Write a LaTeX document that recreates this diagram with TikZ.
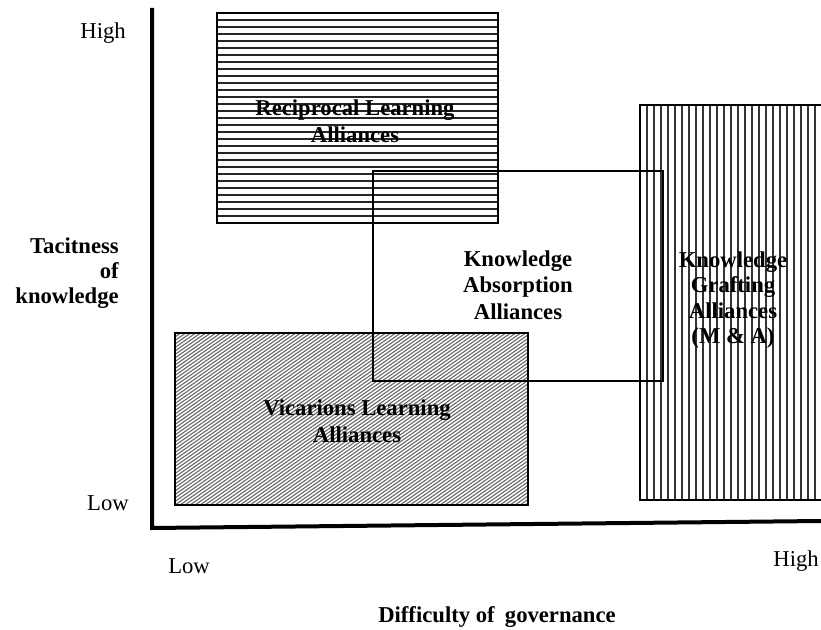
\documentclass[tikz,border=0pt]{standalone}
\usepackage{fontspec}
\setmainfont{Liberation Serif}
\usetikzlibrary{fit}
\begin{document}
\begin{tikzpicture}[x=0.75pt,y=-0.75pt,
  box/.style={draw=black,line width=1.3pt,inner sep=0pt},
  lbl/.style={font=\fontsize{17}{20}\selectfont\bfseries,align=center,inner sep=0pt},
  tick/.style={font=\fontsize{17}{20}\selectfont,inner sep=0pt},
  axis/.style={line width=3pt,line join=miter},
  hhatch/.style={path picture={\foreach \k in {1,...,31}{\draw[line width=1.1pt,black!85] ([yshift={-\k*5.25pt}]path picture bounding box.north west) -- ([yshift={-\k*5.25pt}]path picture bounding box.north east);}}},
  vhatch/.style={path picture={\foreach \k in {1,...,27}{\draw[line width=1.1pt,black!80] ([xshift={\k*5.25pt}]path picture bounding box.north west) -- ([xshift={\k*5.25pt}]path picture bounding box.south west);}}},
  dhatch/.style={path picture={\foreach \k in {0,...,125}{\draw[line width=0.8pt,black!60] ([xshift={\k*3.75pt-195pt}]path picture bounding box.south west) -- ++(400pt,280pt);}}}]
\useasboundingbox (0,0) rectangle (821,630);
% corner coordinates of the regions
\coordinate (rla-nw) at (217,13);  \coordinate (rla-se) at (498,223);
\coordinate (vla-nw) at (175,333); \coordinate (vla-se) at (528,505);
\coordinate (kga-nw) at (640,105); \coordinate (kga-se) at (830,500);
\coordinate (kaa-nw) at (373,171); \coordinate (kaa-se) at (663,381);
% hatched regions
\node[box,hhatch,fit=(rla-nw)(rla-se)] (rla) {};
\node[box,dhatch,fit=(vla-nw)(vla-se)] (vla) {};
\node[box,vhatch,fit=(kga-nw)(kga-se)] (kga) {};
% absorption region (outline only)
\node[box,fit=(kaa-nw)(kaa-se)] (kaa) {};
% axes
\coordinate (ytop) at (152,8);
\coordinate (origin) at (152,528);
\coordinate (xend) at (821,521);
\draw[axis] (ytop) -- (origin) -- (xend);
% region labels
\node[lbl] (rlat) at (355,121) {Reciprocal Learning\\Alliances};
\node[lbl] (vlat) at (357,421) {Vicarions Learning\\Alliances};
\node[lbl] (kaat) at (518,285) {Knowledge\\Absorption\\Alliances};
\node[lbl,font=\fontsize{17}{19}\selectfont\bfseries] (kgat) at (733,300) {Knowledge\\Grafting\\Alliances\\(M \& A)};
% axis labels
\node[tick,anchor=east] (yhigh) at (126,33) {High};
\node[tick,anchor=east] (ylow) at (129,503) {Low};
\node[lbl,font=\fontsize{17}{19}\selectfont\bfseries,align=right,anchor=east] (ytitle) at (119,273) {Tacitness\\of\\knowledge};
\node[tick,anchor=west] (xlow) at (168,566) {Low};
\node[tick,anchor=east] (xhigh) at (819,561) {High};
\node[lbl] (xtitle) at (497,617) {Difficulty of\hspace{0.45em}governance};
\end{tikzpicture}
\end{document}
